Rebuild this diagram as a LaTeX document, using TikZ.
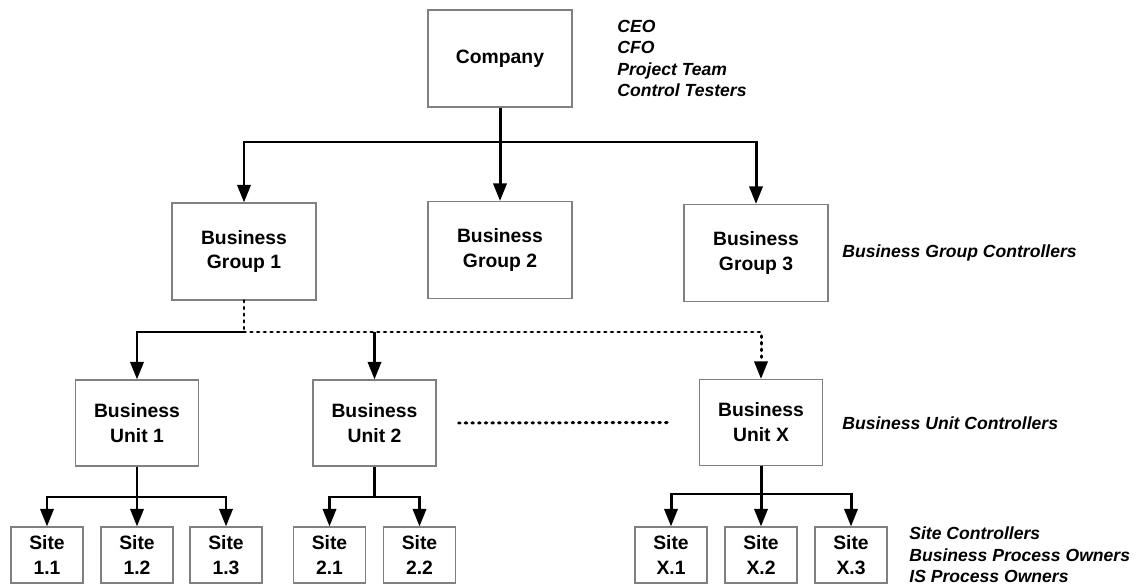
\documentclass[tikz,border=0pt]{standalone}
\usepackage{fontspec}
\setmainfont{Liberation Sans}
\usetikzlibrary{arrows.meta}

\begin{document}
\begin{tikzpicture}[x=0.02cm, y=-0.02cm,
  unitbox/.style={draw=gray, line width=0.6pt, inner sep=0pt, align=center,
    font=\bfseries\fontsize{11}{14.2}\selectfont},
  groupbox/.style={unitbox, minimum width=2.88cm, minimum height=1.94cm},
  bubox/.style={unitbox, minimum width=2.46cm, minimum height=1.72cm},
  sitebox/.style={unitbox, minimum width=1.44cm, minimum height=1.12cm},
  link/.style={line width=1.7pt},
  arr/.style={link, -{Triangle[length=10pt,width=7.5pt]}},
  dots/.style={line cap=round, dash pattern=on 0.9pt off 2.9pt},
  role/.style={anchor=west, inner sep=0pt, align=left,
    font=\bfseries\itshape\fontsize{10}{12.2}\selectfont}]

\useasboundingbox (0,0) rectangle (1138,584);

% the company and the business groups
\node[groupbox] (company) at (500,58.5) {Company};
\node[groupbox] (bg1) at (244,251.5) {Business\\Group 1};
\node[groupbox] (bg2) at (500,250) {Business\\Group 2};
\node[groupbox] (bg3) at (756,253) {Business\\Group 3};

% the business units
\node[bubox] (bu1) at (137,423) {Business\\Unit 1};
\node[bubox] (bu2) at (374.5,423) {Business\\Unit 2};
\node[bubox] (bux) at (761,422.5) {Business\\Unit X};

% the sites
\node[sitebox] (s11) at (47,555) {Site\\1.1};
\node[sitebox] (s12) at (137,555) {Site\\1.2};
\node[sitebox] (s13) at (226,555) {Site\\1.3};
\node[sitebox] (s21) at (329.5,555) {Site\\2.1};
\node[sitebox] (s22) at (419.5,555) {Site\\2.2};
\node[sitebox] (sx1) at (671,555) {Site\\X.1};
\node[sitebox] (sx2) at (761,555) {Site\\X.2};
\node[sitebox] (sx3) at (851,555) {Site\\X.3};

% company to groups
\coordinate (cbar) at (500,142);
\draw[link] (company) -- (cbar);
\draw[arr] (cbar) -| (bg1);
\draw[arr] (cbar) -- (bg2);
\draw[arr] (cbar) -| (bg3);

% group 1 to units
\coordinate (gbar) at (244,332);
\draw[link,dots] (bg1) -- (gbar);
\draw[arr] (gbar) -| (bu1);
\draw[arr,dots] (gbar) -| (bux);
\draw[arr] (bu2|-gbar) -- (bu2);
\draw[link,dots] ([xshift=0.44cm]bu2.east) -- ([xshift=-0.54cm]bux.west);

% units to sites
\coordinate (u1bar) at (137,497);
\draw[link] (bu1) -- (u1bar);
\draw[arr] (u1bar) -| (s11);
\draw[arr] (u1bar) -- (s12);
\draw[arr] (u1bar) -| (s13);
\coordinate (u2bar) at (374.5,497);
\draw[link] (bu2) -- (u2bar);
\draw[arr] (u2bar) -| (s21);
\draw[arr] (u2bar) -| (s22);
\coordinate (uxbar) at (761,494);
\draw[link] (bux) -- (uxbar);
\draw[arr] (uxbar) -| (sx1);
\draw[arr] (uxbar) -- (sx2);
\draw[arr] (uxbar) -| (sx3);

% the roles at each level
\node[role] (toprole) at (617,58.5) {CEO\\CFO\\Project Team\\Control Testers};
\node[role] (grouprole) at (842,253) {Business Group Controllers};
\node[role] (unitrole) at (842,423) {Business Unit Controllers};
\node[role] (siterole) at (909,555) {Site Controllers\\Business Process Owners\\IS Process Owners};

\end{tikzpicture}
\end{document}
